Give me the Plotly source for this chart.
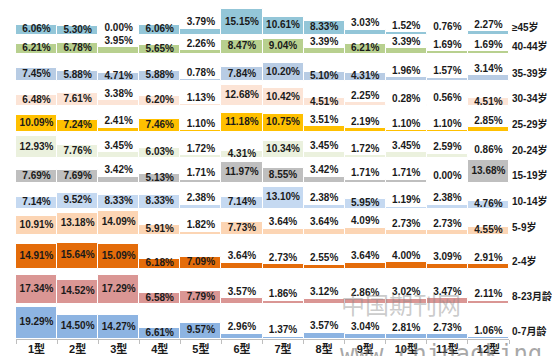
import plotly.graph_objects as go

types = ["1型", "2型", "3型", "4型", "5型", "6型", "7型", "8型", "9型", "10型", "11型", "12型"]

age_groups = ["≥45岁", "40-44岁", "35-39岁", "30-34岁", "25-29岁", "20-24岁",
              "15-19岁", "10-14岁", "5-9岁", "2-4岁", "8-23月龄", "0-7月龄"]

v_45plus = [6.06, 5.30, 0.00, 6.06, 3.79, 15.15, 10.61, 8.33, 3.03, 1.52, 0.76, 2.27]
v_40_44 = [6.21, 6.78, 3.95, 5.65, 2.26, 8.47, 9.04, 3.39, 6.21, 3.39, 1.69, 1.69]
v_35_39 = [7.45, 5.88, 4.71, 5.88, 0.78, 7.84, 10.20, 5.10, 4.31, 1.96, 1.57, 3.14]
v_30_34 = [6.48, 7.61, 3.38, 6.20, 1.13, 12.68, 10.42, 4.51, 2.25, 0.28, 0.56, 4.51]
v_25_29 = [10.09, 7.24, 2.41, 7.46, 1.10, 11.18, 10.75, 3.51, 2.19, 1.10, 1.10, 2.85]
v_20_24 = [12.93, 7.76, 3.45, 6.03, 1.72, 4.31, 10.34, 3.45, 1.72, 3.45, 2.59, 0.86]
v_15_19 = [7.69, 7.69, 3.42, 5.13, 1.71, 11.97, 8.55, 3.42, 1.71, 1.71, 0.00, 13.68]
v_10_14 = [7.14, 9.52, 8.33, 8.33, 2.38, 7.14, 13.10, 2.38, 5.95, 1.19, 2.38, 4.76]
v_5_9 = [10.91, 13.18, 14.09, 5.91, 1.82, 7.73, 3.64, 3.64, 4.09, 2.73, 2.73, 4.55]
v_2_4 = [14.91, 15.64, 15.09, 6.18, 7.09, 3.64, 2.73, 2.55, 3.64, 4.00, 3.09, 2.91]
v_8_23m = [17.34, 14.52, 17.29, 6.58, 7.79, 3.57, 1.86, 3.12, 2.86, 3.02, 3.47, 2.11]
v_0_7m = [19.29, 14.50, 14.27, 6.61, 9.57, 2.96, 1.37, 3.57, 3.04, 2.81, 2.73, 1.06]

rows = [v_45plus, v_40_44, v_35_39, v_30_34, v_25_29, v_20_24,
        v_15_19, v_10_14, v_5_9, v_2_4, v_8_23m, v_0_7m]

# layout: vertical offset (baseline) of each row panel, in axis units
row_base = [181.0, 169.6, 153.8, 138.7, 123.2, 107.7, 93.1, 77.6, 62.1, 41.7, 20.8, 0.0]
colors = ["#93C6D8", "#B8D08F", "#B8CCE4", "#FCE4D6", "#FFC000", "#EBF1DE",
          "#BFBFBF", "#C5D9F1", "#FCD5B4", "#E46C0A", "#DA9694", "#8DB4E2"]

fig = go.Figure()
lx, ly, lt = [], [], []
for vals, base, col in zip(rows, row_base, colors):
    fig.add_trace(go.Bar(
        x=types, y=vals, base=base, width=1.0,
        marker=dict(color=col, line=dict(color="white", width=1)),
        hoverinfo="skip",
    ))
    for t, v in zip(types, vals):
        lx.append(t)
        ly.append(base + (v / 2 if v >= 4.2 else v + 3.6))
        lt.append(f"{v:.2f}%")

fig.add_trace(go.Scatter(
    x=lx, y=ly, text=lt, mode="text", cliponaxis=False,
    textfont=dict(family="Liberation Sans, Arial", size=10, color="#1a1a1a", weight="bold"),
    hoverinfo="skip",
))

for name, base in zip(age_groups, row_base):
    fig.add_annotation(
        xref="paper", x=1, xanchor="left", xshift=1,
        yref="y", y=base + 4.8, yanchor="middle",
        text=name, showarrow=False,
        font=dict(family="Liberation Sans, Noto Sans CJK SC", size=10, color="#1a1a1a", weight="bold"),
    )

# watermark
fig.add_annotation(
    xref="paper", yref="paper", x=0.781, y=0.106, xanchor="center", yanchor="middle",
    text="中国期刊网", showarrow=False,
    font=dict(family="Noto Sans CJK SC", size=24, color="rgba(140,140,140,0.45)"),
)
fig.add_annotation(
    xref="paper", yref="paper", x=0.653, y=-0.045, xanchor="left", yanchor="middle",
    text="www.chinaqking.com", showarrow=False,
    font=dict(family="DejaVu Sans Mono", size=24, color="rgba(110,110,110,0.6)"),
)

fig.update_layout(
    width=560, height=356,
    margin=dict(l=8, r=59, t=0, b=25),
    plot_bgcolor="white", paper_bgcolor="white",
    barmode="overlay", bargap=0,
    showlegend=False,
    xaxis=dict(
        type="category", categoryorder="array", categoryarray=types,
        range=[-0.5, 11.5],
        showline=True, linecolor="#BFBFBF", linewidth=1,
        ticks="outside", ticklen=4, tickcolor="#BFBFBF", tickson="boundaries",
        showgrid=False, zeroline=False,
        tickfont=dict(family="Liberation Sans, Noto Sans CJK SC", size=11, color="#1a1a1a", weight="bold"),
    ),
    yaxis=dict(visible=False, range=[0, 197], showgrid=False, zeroline=False),
)

fig.write_html("out.html")
